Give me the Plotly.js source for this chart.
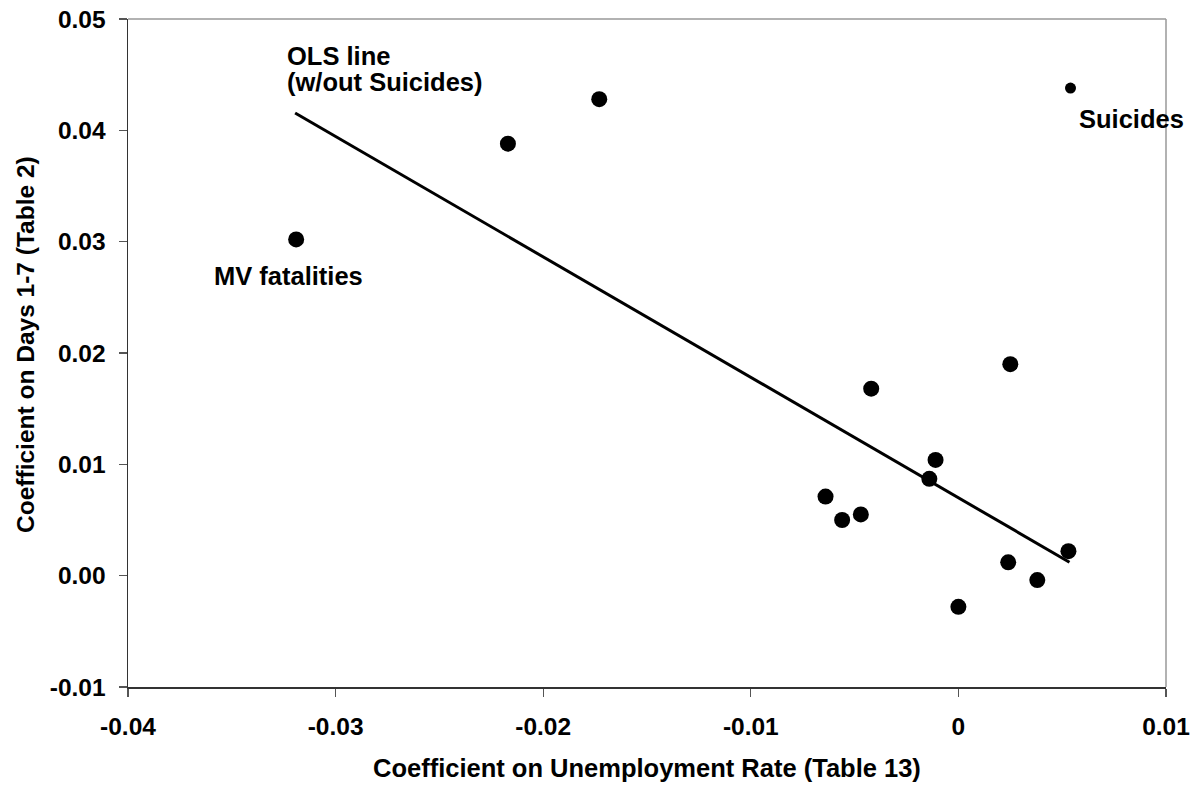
<!DOCTYPE html>
<html>
<head>
<meta charset="utf-8">
<script src="https://cdn.plot.ly/plotly-3.0.1.min.js"></script>
<style>html,body{margin:0;padding:0;background:#fff;}#chart{width:1196px;height:787px;}</style>
</head>
<body>
<div id="chart"></div>
<script>
// Coefficient on Unemployment Rate (Table 13) vs Coefficient on Days 1-7 (Table 2)
const unempCoef = [-0.0319, -0.0217, -0.0173, -0.0042, 0.0025, -0.0011, -0.0014, -0.0064, -0.0056, -0.0047, 0.0053, 0.0024, 0.0038, 0.0000];
const days17Coef = [0.0302, 0.0388, 0.0428, 0.0168, 0.0190, 0.0104, 0.0087, 0.0071, 0.0050, 0.0055, 0.0022, 0.0012, -0.0004, -0.0028];
const suicidesX = [0.0054];
const suicidesY = [0.0438];
const olsX = [-0.03195, 0.00535];
const olsY = [0.04156, 0.00121];
const xTickVals = [-0.04, -0.03, -0.02, -0.01, 0, 0.01];
const xTickText = ['-0.04', '-0.03', '-0.02', '-0.01', '0', '0.01'];
const yTickVals = [-0.01, 0, 0.01, 0.02, 0.03, 0.04, 0.05];
const yTickText = ['-0.01', '0.00', '0.01', '0.02', '0.03', '0.04', '0.05'];

const FAM = 'Liberation Sans, Arial, Helvetica, sans-serif';
const bold = (size) => ({family: FAM, size: size, color: '#000', weight: 'bold'});

const traces = [
  {x: olsX, y: olsY, type: 'scatter', mode: 'lines', line: {color: '#000', width: 3}, hoverinfo: 'skip'},
  {x: unempCoef, y: days17Coef, type: 'scatter', mode: 'markers', marker: {color: '#000', size: 16}},
  {x: suicidesX, y: suicidesY, type: 'scatter', mode: 'markers', marker: {color: '#000', size: 11}}
];

const layout = {
  width: 1196, height: 787,
  margin: {l: 128, r: 30, t: 19, b: 100},
  paper_bgcolor: '#fff', plot_bgcolor: '#fff',
  showlegend: false,
  xaxis: {
    range: [-0.04, 0.01], tickvals: xTickVals, ticktext: xTickText,
    showgrid: false, zeroline: false, showline: true, linecolor: '#333', linewidth: 1.5,
    ticks: 'outside', ticklen: 8, tickcolor: '#555', tickwidth: 1.2,
    tickfont: bold(24.5), ticklabelstandoff: 9, fixedrange: true
  },
  yaxis: {
    range: [-0.01, 0.05], tickvals: yTickVals, ticktext: yTickText,
    showgrid: false, zeroline: false, showline: true, linecolor: '#333', linewidth: 1.5,
    ticks: 'outside', ticklen: 8, tickcolor: '#555', tickwidth: 1.2,
    tickfont: bold(24.5), ticklabelstandoff: 8, fixedrange: true
  },
  shapes: [
    {type: 'line', xref: 'paper', yref: 'paper', x0: 0, x1: 1, y0: 1, y1: 1, line: {color: '#999', width: 1.5}},
    {type: 'line', xref: 'paper', yref: 'paper', x0: 1, x1: 1, y0: 0, y1: 1, line: {color: '#999', width: 1.5}}
  ],
  annotations: [
    {text: 'OLS line', x: -0.03245, y: 0.04672, xref: 'x', yref: 'y', xanchor: 'left', yanchor: 'middle', showarrow: false, font: bold(25.5)},
    {text: '(w/out Suicides)', x: -0.03245, y: 0.04433, xref: 'x', yref: 'y', xanchor: 'left', yanchor: 'middle', showarrow: false, font: bold(25.5)},
    {text: 'MV fatalities', x: -0.03595, y: 0.02690, xref: 'x', yref: 'y', xanchor: 'left', yanchor: 'middle', showarrow: false, font: bold(25.5)},
    {text: 'Suicides', x: 0.00570, y: 0.04105, xref: 'x', yref: 'y', xanchor: 'left', yanchor: 'middle', showarrow: false, font: bold(25.5)},
    {text: 'Coefficient on Unemployment Rate (Table 13)', x: 0.5, y: -0.1213, xref: 'paper', yref: 'paper', xanchor: 'center', yanchor: 'middle', showarrow: false, font: bold(25.5)},
    {text: 'Coefficient on Days 1-7 (Table 2)', x: -0.0983, y: 0.5135, xref: 'paper', yref: 'paper', xanchor: 'center', yanchor: 'middle', textangle: -90, showarrow: false, font: bold(24.5)}
  ]
};

Plotly.newPlot('chart', traces, layout, {displayModeBar: false, staticPlot: true});
</script>
</body>
</html>
